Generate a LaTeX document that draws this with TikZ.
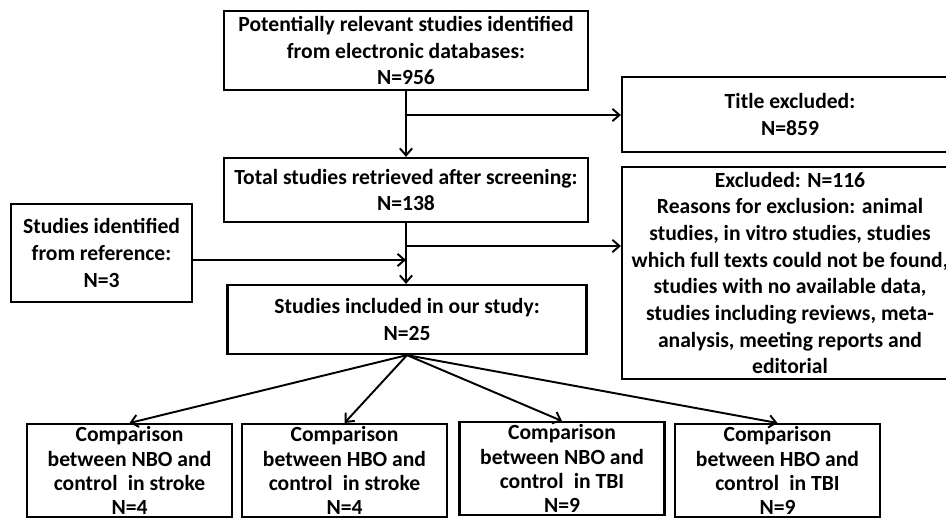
\documentclass[tikz,border=0pt]{standalone}
\usepackage{fontspec}
\setmainfont{Carlito}
\usetikzlibrary{arrows.meta,positioning}

\begin{document}
\begin{tikzpicture}[x=0.02cm,y=-0.02cm,>={Straight Barb[length=4pt,width=7pt]},
  box/.style={draw,line width=1.3pt,align=center,inner sep=2pt,
    font=\bfseries\fontsize{12.3}{15.2}\selectfont},
  compbox/.style={box,anchor=north,minimum width=4.1cm,inner sep=1.5pt,
    font=\bfseries\fontsize{12.3}{13.8}\selectfont},
  link/.style={line width=1.1pt}]
\useasboundingbox (0,0) rectangle (946,520);
\clip (0,0) rectangle (946,520);
% main column
\node[box,minimum width=7.28cm,minimum height=1.58cm] (db) at (406,50.5)
  {Potentially relevant studies identified\\from electronic databases:\\N=956};
\node[box,minimum width=7.28cm,minimum height=1.28cm] (total) at (406,190)
  {Total studies retrieved after screening:\\N=138};
\node[box,minimum width=7.18cm,minimum height=1.38cm] (incl) at (407,319.5)
  {Studies included in our study:\\N=25};
% side boxes
\node[box,minimum width=6.72cm,minimum height=1.5cm] (title) at (790,114.5)
  {Title excluded:\\N=859};
\node[box,minimum width=6.72cm,minimum height=4.24cm] (excl) at (790,273)
  {Excluded: N=116\\Reasons for exclusion: animal\\studies, in vitro studies, studies\\which full texts could not be found,\\studies with no available data,\\studies including reviews, meta-\\analysis, meeting reports and\\editorial};
\node[box,minimum width=3.62cm,minimum height=1.96cm] (ref) at (101.5,253)
  {Studies identified\\from reference:\\N=3};
% comparisons
\node[compbox] (nbostroke) at (129.5,423)
  {Comparison\\between NBO and\\control\hspace{0.25em} in stroke\\N=4};
\node[compbox] (hbostroke) at (344.5,423)
  {Comparison\\between HBO and\\control\hspace{0.25em} in stroke\\N=4};
\node[compbox] (nbotbi) at (562,421)
  {Comparison\\between NBO and\\control\hspace{0.25em} in TBI\\N=9};
\node[compbox] (hbotbi) at (777.5,423)
  {Comparison\\between HBO and\\control\hspace{0.25em} in TBI\\N=9};
% connectors
\coordinate (split1) at (406,115);
\coordinate (split2) at (406,246);
\coordinate (join) at (192,260);
\draw[link,->] (db.south) -- (total.north);
\draw[link,->] (split1) -- (split1 -| title.west);
\draw[link,->] (total.south) -- (total.south |- incl.north);
\draw[link,->] (split2) -- (split2 -| excl.west);
\draw[link,->] (join) -- (join -| total.south);
\foreach \n in {nbostroke,hbostroke,nbotbi,hbotbi}
  \draw[link,->] (incl.south) -- (\n.north);
\end{tikzpicture}
\end{document}
